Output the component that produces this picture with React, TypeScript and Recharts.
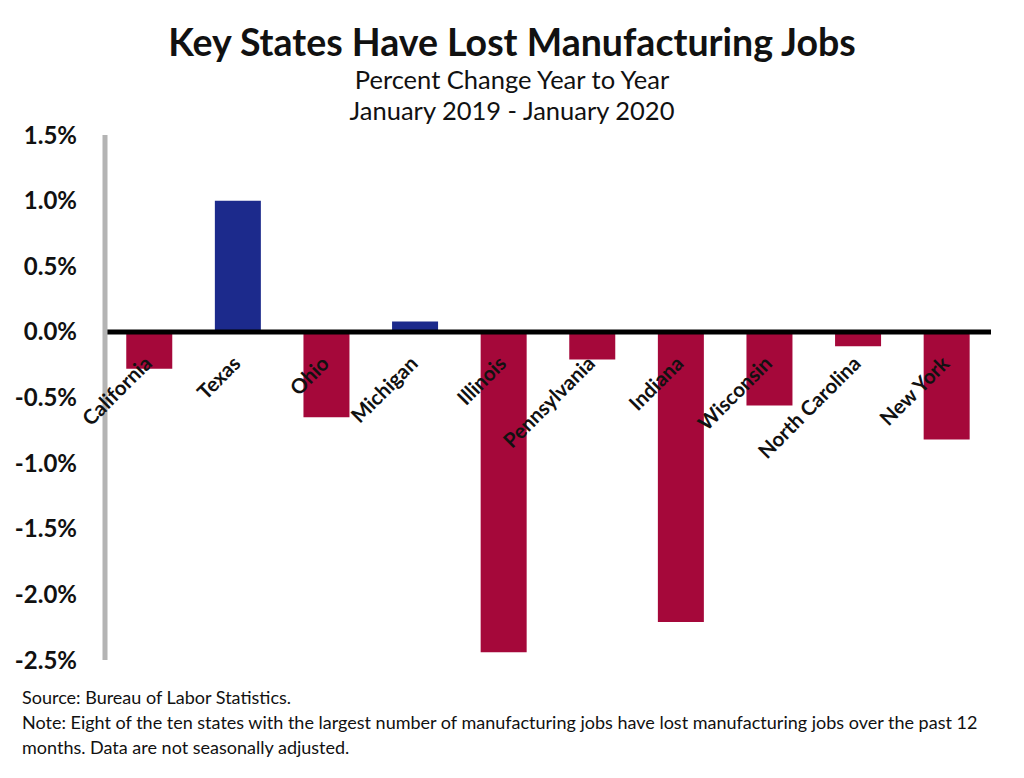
import React from 'react'
import { BarChart, Bar, XAxis, YAxis, ReferenceLine, Cell, LabelList } from 'recharts'

const states = ['California', 'Texas', 'Ohio', 'Michigan', 'Illinois', 'Pennsylvania', 'Indiana', 'Wisconsin', 'North Carolina', 'New York']
const changes = [-0.28, 1.0, -0.65, 0.08, -2.44, -0.21, -2.21, -0.56, -0.11, -0.82]
const yTicks = [-2.5, -2.0, -1.5, -1.0, -0.5, 0, 0.5, 1.0, 1.5]

const data = states.map((state, i) => ({ state, change: changes[i] }))

const FONT = 'Lato, "Noto Sans", sans-serif'
const RED = '#a5083a'
const BLUE = '#1c2a8c'

// state names sit under the zero line, rotated like the original
const StateLabel = (props: any) => {
    const box = props.viewBox ?? props
    const { x, y, width, height } = box
    const i = props.index
    const cx = x + width / 2 + 4
    const zero = changes[i] >= 0 ? Math.max(y, y + height) : Math.min(y, y + height)
    const ty = zero + 33
    return (
        <text x={cx} y={ty} transform={`rotate(-45, ${cx}, ${ty})`} textAnchor="end"
            fontFamily={FONT} fontWeight={700} fontSize={20.5} fill="#111">
            {states[i]}
        </text>
    )
}

const App: React.FC = () => {
    return (
        <div style={{ position: 'absolute', left: 0, top: 0, width: 1024, height: 778, background: '#fff', fontFamily: FONT, color: '#111' }}>
            <div style={{ position: 'absolute', top: 19, width: 1024, textAlign: 'center', fontSize: 37.5, fontWeight: 700, lineHeight: '46px' }}>
                Key States Have Lost Manufacturing Jobs
            </div>
            <div style={{ position: 'absolute', top: 64, width: 1024, textAlign: 'center', fontSize: 25.5, lineHeight: '31px' }}>
                Percent Change Year to Year<br />January 2019 - January 2020
            </div>
            <div style={{ position: 'absolute', left: 0, top: 0 }}>
                <BarChart width={1024} height={778} data={data} margin={{ top: 135, right: 33, bottom: 118, left: 25 }} barCategoryGap="24%">
                    <XAxis dataKey="state" hide />
                    <YAxis domain={[-2.5, 1.5]} ticks={yTicks} width={80} interval={0}
                        tickFormatter={(v: number) => `${v.toFixed(1)}%`}
                        axisLine={{ stroke: '#b4b4b4', strokeWidth: 5 }} tickLine={false} tickSize={0} tickMargin={28}
                        tick={{ fontFamily: FONT, fontWeight: 700, fontSize: 24, fill: '#111' }} />
                    <Bar dataKey="change" isAnimationActive={false}>
                        {data.map((d) => (
                            <Cell key={d.state} fill={d.change >= 0 ? BLUE : RED} />
                        ))}
                        <LabelList dataKey="state" content={StateLabel} />
                    </Bar>
                    <ReferenceLine y={0} stroke="#000" strokeWidth={5} />
                </BarChart>
            </div>
            <div style={{ position: 'absolute', left: 22, top: 685, fontSize: 18, lineHeight: '25px', whiteSpace: 'nowrap' }}>
                Source: Bureau of Labor Statistics.<br />
                Note: Eight of the ten states with the largest number of manufacturing jobs have lost manufacturing jobs over the past 12<br />
                months. Data are not seasonally adjusted.
            </div>
        </div>
    )
}

export default App
